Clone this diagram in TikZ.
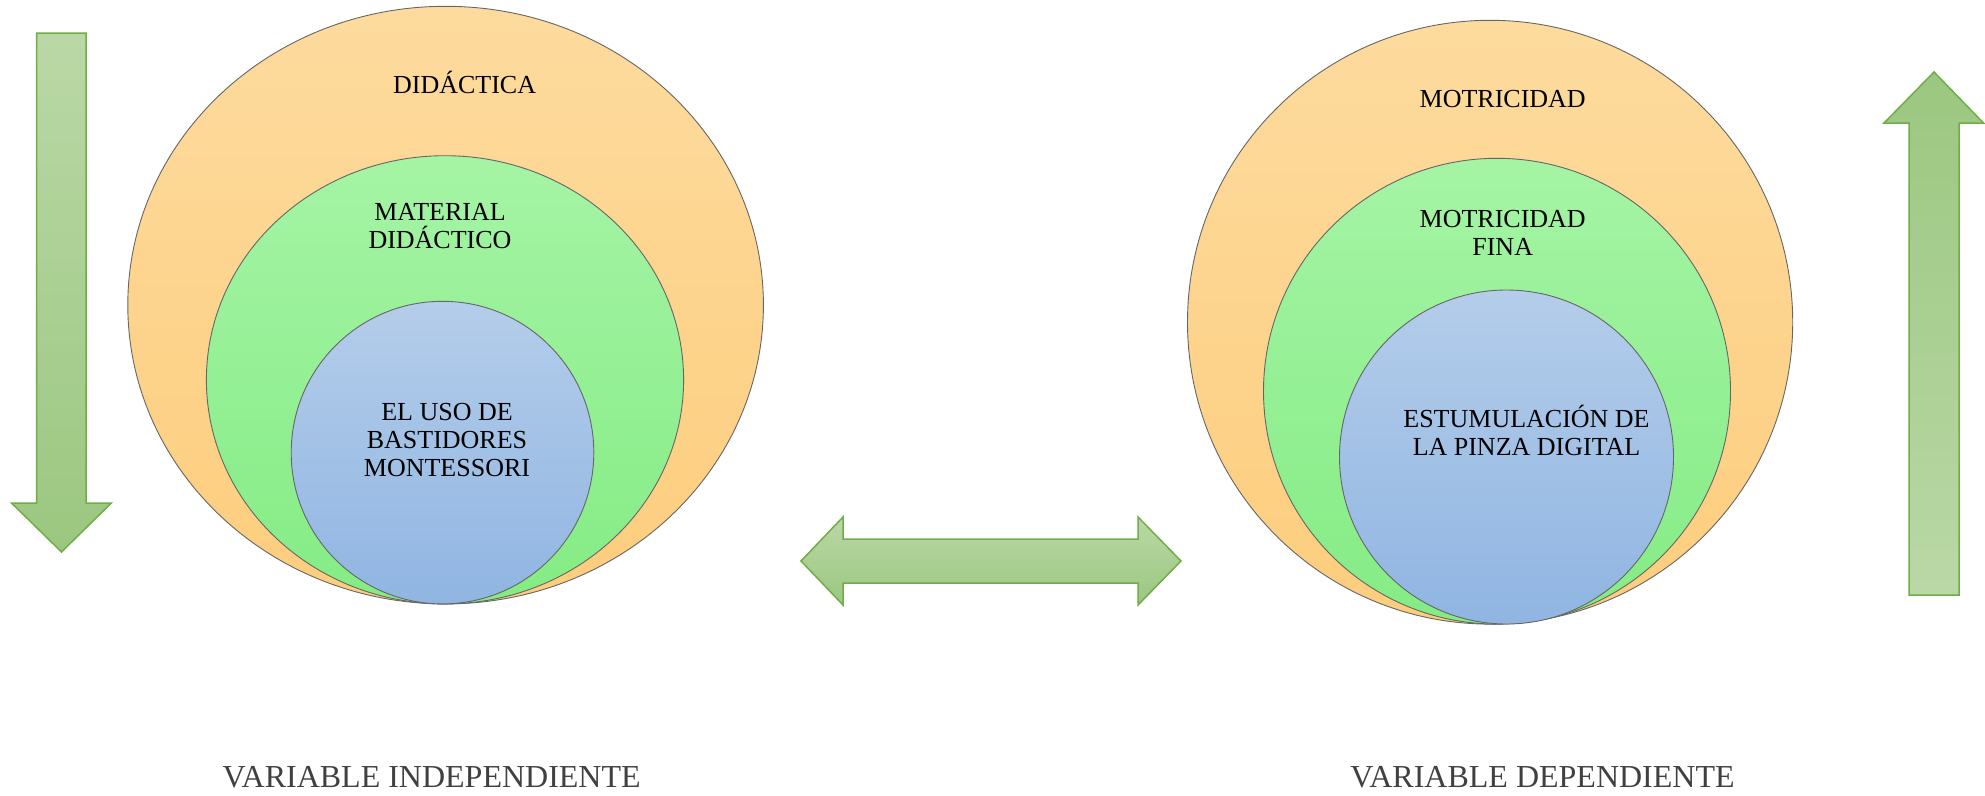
\documentclass[tikz,border=0pt]{standalone}
\usepackage{fontspec}
\setmainfont{Liberation Serif}
\usetikzlibrary{shapes.geometric, positioning}

\definecolor{topO}{RGB}{253,219,158}
\definecolor{botO}{RGB}{253,205,125}
\definecolor{topG}{RGB}{165,244,165}
\definecolor{botG}{RGB}{132,236,132}
\definecolor{topB}{RGB}{180,205,234}
\definecolor{botB}{RGB}{144,181,226}
\definecolor{arrowLight}{RGB}{186,216,166}
\definecolor{arrowDark}{RGB}{155,199,128}
\definecolor{arrowEdge}{RGB}{112,173,71}
\definecolor{varText}{RGB}{64,64,64}

\begin{document}
\begin{tikzpicture}
[
    x=1pt, y=-1pt,
    % Ring nodes are named R-side-level (side L or R, level 0 = outer)
]

%=================================== Start ===================================
\tikzstyle{ring}  = [ellipse, draw=black!60, line width=0.9pt, inner sep=0pt, outer sep=0pt]
\tikzstyle{txt}   = [font=\fontsize{26}{28}\selectfont, align=center, inner sep=0pt]
\tikzstyle{var}   = [font=\fontsize{32}{36}\selectfont, text=varText, inner sep=0pt]
\tikzstyle{arrow} = [draw=arrowEdge, line width=1.5pt, line join=miter]

\useasboundingbox (0,0) rectangle (1985,795);

{
    % Draw rings: outer, middle, inner
    \foreach \n / \x / \y / \w / \h / \c in {
        R-L-0/445.6/305.1/635.6/597.6/O, R-L-1/445.0/379.8/477.2/448.2/G,
        R-L-2/442.5/452.6/302.6/302.6/B,
        R-R-0/1490.1/322.2/605.2/603.8/O, R-R-1/1497.0/391.2/467.0/465.8/G,
        R-R-2/1506.5/457.0/334.0/334.0/B}
        \node[ring, top color=top\c, bottom color=bot\c,
              minimum width=\w pt, minimum height=\h pt] (\n) at (\x,\y) {};

    % Ring labels
    \node[txt] (T-L-0) at (464.6,82)  {DIDÁCTICA};
    \node[txt] (T-L-1) at (440,226)   {MATERIAL\\DIDÁCTICO};
    \node[txt] (T-L-2) at (447,440)   {EL USO DE\\BASTIDORES\\MONTESSORI};
    \node[txt] (T-R-0) at (1502.7,99) {MOTRICIDAD};
    \node[txt] (T-R-1) at (1502.7,233){MOTRICIDAD\\FINA};
    \node[txt] (T-R-2) at (1526.5,430){ESTUMULACIÓN DE\\LA PINZA DIGITAL};

    % Variable labels
    \node[var] (V-L) at (431.7,777)  {VARIABLE INDEPENDIENTE};
    \node[var] (V-R) at (1542.5,777) {VARIABLE DEPENDIENTE};

    % Down arrow (independent side)
    \shade[arrow, top color=arrowLight, bottom color=arrowDark]
        (36.7,33) -- (86.2,33) -- (86.2,503) -- (111.4,503) -- (61.5,552)
        -- (11.5,503) -- (36.7,503) -- cycle;
    % Up arrow (dependent side)
    \shade[arrow, top color=arrowDark, bottom color=arrowLight]
        (1909,595) -- (1959,595) -- (1959,123) -- (1983.5,123) -- (1934,72)
        -- (1884,123) -- (1909,123) -- cycle;
    % Double arrow between both sides
    \shade[arrow, top color=arrowLight, bottom color=arrowDark]
        (801,561) -- (843,517) -- (843,539) -- (1138,539) -- (1138,517)
        -- (1181,561) -- (1138,605) -- (1138,583) -- (843,583) -- (843,605) -- cycle;
}
%==================================== END ====================================

\end{tikzpicture}
\end{document}
